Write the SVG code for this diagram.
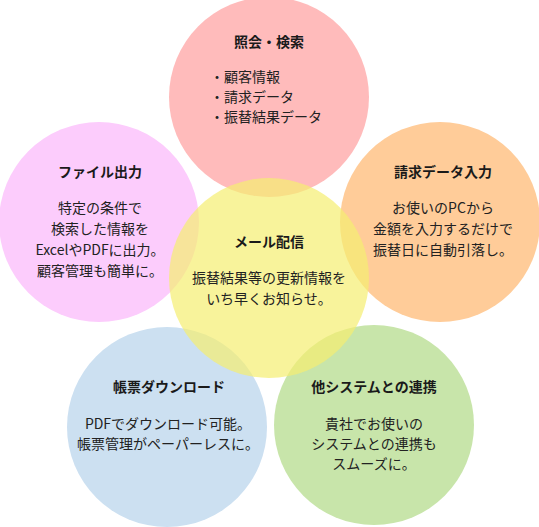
<svg xmlns="http://www.w3.org/2000/svg" width="539" height="527" viewBox="0 0 539 527">
<style>
text{font-family:"Noto Sans CJK JP","Noto Sans",sans-serif;font-size:14px;fill:#222;text-anchor:middle}
.t{font-weight:bold;fill:#1a1a1a}
.l{text-anchor:start}
</style>
<rect width="539" height="527" fill="#fff"/>
<g id="node-search"><circle cx="269" cy="97" r="100" fill="#FFBBBB"/></g>
<g id="node-file"><circle cx="99" cy="222" r="100" fill="#FCCCFC"/></g>
<g id="node-input"><circle cx="440" cy="222" r="100" fill="#FFCC99"/></g>
<g id="node-download"><circle cx="167" cy="427" r="100" fill="#CCE0F1"/></g>
<g id="node-link"><circle cx="374" cy="425" r="100" fill="#C8E5AA"/></g>
<g id="node-mail"><circle cx="269" cy="278" r="100" fill="#F5EE70" fill-opacity="0.7"/></g>
<g id="connectors"></g>
<g id="labels">
<text class="t" x="269" y="47">照会・検索</text>
<text class="l" x="210" y="82">・顧客情報</text>
<text class="l" x="210" y="102">・請求データ</text>
<text class="l" x="210" y="122">・振替結果データ</text>

<text class="t" x="100" y="177">ファイル出力</text>
<text x="100" y="213">特定の条件で</text>
<text x="100" y="234">検索した情報を</text>
<text x="100" y="255">ExcelやPDFに出力。</text>
<text x="100" y="276">顧客管理も簡単に。</text>

<text class="t" x="443" y="177">請求データ入力</text>
<text x="443" y="213">お使いのPCから</text>
<text x="443" y="234">金額を入力するだけで</text>
<text x="443" y="255">振替日に自動引落し。</text>

<text class="t" x="269" y="247">メール配信</text>
<text x="269" y="283">振替結果等の更新情報を</text>
<text x="269" y="304">いち早くお知らせ。</text>

<text class="t" x="169" y="392">帳票ダウンロード</text>
<text x="168" y="429">PDFでダウンロード可能。</text>
<text x="168" y="449">帳票管理がペーパーレスに。</text>

<text class="t" x="374" y="392">他システムとの連携</text>
<text x="374" y="429">貴社でお使いの</text>
<text x="374" y="449">システムとの連携も</text>
<text x="374" y="469">スムーズに。</text>
</g>
</svg>
